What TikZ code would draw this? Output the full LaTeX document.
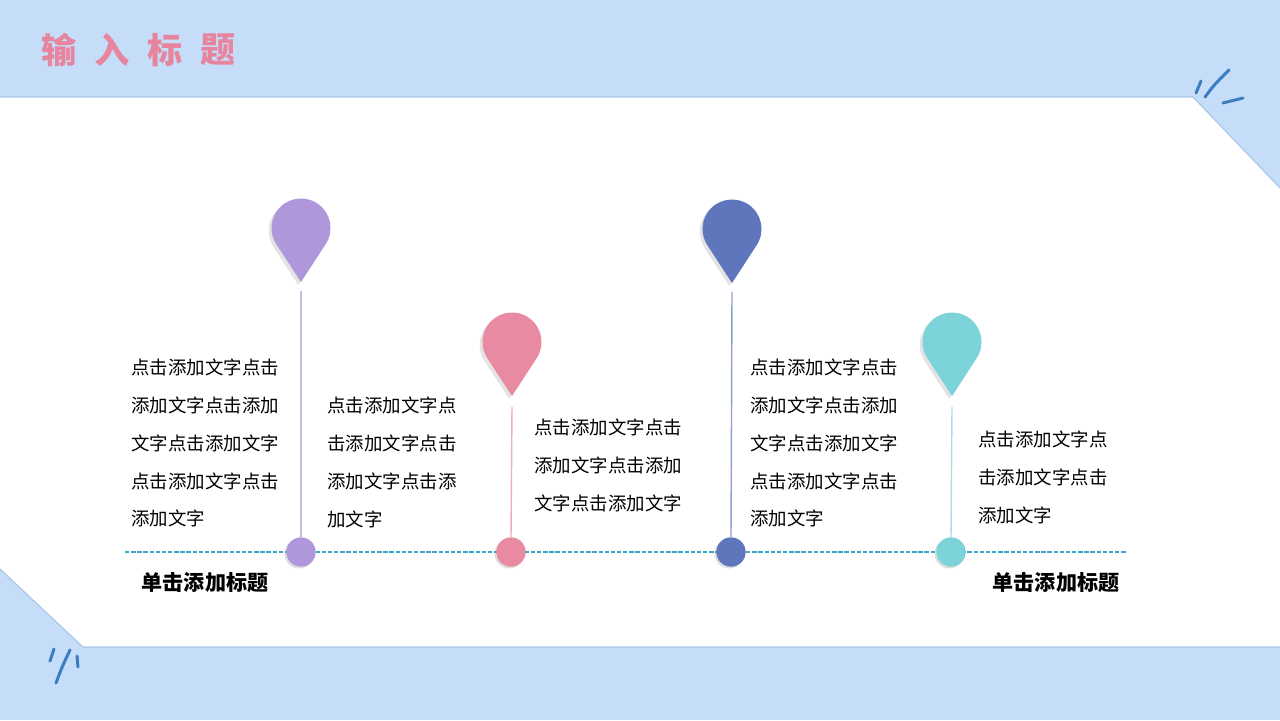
\documentclass[tikz,border=0pt]{standalone}
\usepackage{fontspec}
\newfontfamily\cjk{Noto Sans CJK SC}
\usepackage{tikz}
\usetikzlibrary{positioning,shadows,calc}
\definecolor{bgblue}{HTML}{C5DDF8}
\definecolor{edgeblue}{HTML}{A6C5E8}
\definecolor{strokeblue}{HTML}{3C7CC0}
\definecolor{titlepink}{HTML}{E8859E}
\definecolor{pinpurple}{HTML}{B097DB}
\definecolor{pinpink}{HTML}{E98AA3}
\definecolor{pinblue}{HTML}{5F76BD}
\definecolor{pincyan}{HTML}{7DD3DA}
\definecolor{lineteal}{HTML}{3BA6C6}
\tikzset{
  body/.style={font=\fontsize{10.5}{21.6}\selectfont\cjk,align=left,inner sep=0pt,anchor=west},
  head/.style={font=\fontsize{12}{14}\selectfont\cjk\bfseries,inner sep=0pt},
  titlechar/.style={font=\fontsize{20}{22}\selectfont\cjk\bfseries,text=titlepink,inner sep=0pt},
  dot/.style={circle,inner sep=0pt,minimum size=16.7pt,
    drop shadow={opacity=0.25,shadow xshift=-1pt,shadow yshift=-1pt}},
  pinshade/.style={drop shadow={opacity=0.22,shadow xshift=-1.6pt,shadow yshift=-1.6pt}},
  squiggle/.style={strokeblue,line width=1.7pt,line cap=round},
}
% pin head: name, centre, colour
\newcommand{\drawpin}[3]{%
  \coordinate (#1) at (#2);
  \fill[#3,pinshade] ($(#1)+(0,54)$) -- ($(#1)+(33.1:29.5)$)
    arc[start angle=33.1, end angle=-213.1, radius=29.5] -- cycle;
}

\begin{document}
\begin{tikzpicture}[x=0.02cm,y=-0.02cm]
    \useasboundingbox (0,0) rectangle (1280,720);
    \fill[bgblue] (0,0) rectangle (1280,720);

    % white panel
    \fill[white] (0,97) -- (1193,97) -- (1280,188) -- (1280,647) -- (83,647) -- (0,569) -- cycle;
    \draw[edgeblue,line width=0.6pt] (0,97) -- (1193,97) -- (1280,188);
    \draw[edgeblue,line width=0.6pt] (0,569) -- (83,647) -- (1280,647);

    % strokes
    \draw[squiggle] (1196,93) -- (1201,81);
    \draw[squiggle] (1205,97) .. controls (1214,85) .. (1229,70);
    \draw[squiggle] (1223,103) -- (1243,98);
    \draw[squiggle] (50,661) -- (54,649);
    \draw[squiggle] (56,683) .. controls (62,667) .. (70,650);
    \draw[squiggle] (77,656) -- (78,667);

    % title
    \foreach \c [count=\i] in {输,入,标,题}
      \node[titlechar] (title\i) at ({59+53*(\i-1)},50) {\c};

    % timeline
    \coordinate (tl-start) at (125,552);
    \coordinate (tl-end) at (1127,552);
    \draw[lineteal,dashed,line width=0.6pt,dash pattern=on 2.5pt off 1pt] (tl-start) -- (tl-end);

    %pins
    \drawpin{p1}{301,228}{pinpurple}
    \drawpin{p2}{512,342}{pinpink}
    \drawpin{p3}{732,229}{pinblue}
    \drawpin{p4}{952,342}{pincyan}

    %dots
    \node[dot,fill=pinpurple] (d1) at (301,552) {};
    \node[dot,fill=pinpink] (d2) at (511,552) {};
    \node[dot,fill=pinblue] (d3) at (731,552) {};
    \node[dot,fill=pincyan] (d4) at (951,552) {};

    %stems
    \coordinate (s1) at (301,291);
    \coordinate (s2) at (512,407);
    \coordinate (s3) at (732,292);
    \coordinate (s4) at (952,407);
    \draw[pinpurple!70,line width=0.8pt] (s1) -- (d1.north);
    \draw[pinpink!70,line width=0.8pt] (s2) -- (d2.north);
    \draw[pinblue!70,line width=0.8pt] (s3) -- (d3.north);
    \draw[pincyan!70,line width=0.8pt] (s4) -- (d4.north);

    %texts
    \node[body] (txt1) at (131,443) {点击添加文字点击\\添加文字点击添加\\文字点击添加文字\\点击添加文字点击\\添加文字};
    \node[body] (txt2) at (327,462) {点击添加文字点\\击添加文字点击\\添加文字点击添\\加文字};
    \node[body] (txt3) at (534,465) {点击添加文字点击\\添加文字点击添加\\文字点击添加文字};
    \node[body] (txt4) at (750,443) {点击添加文字点击\\添加文字点击添加\\文字点击添加文字\\点击添加文字点击\\添加文字};
    \node[body] (txt5) at (978,477) {点击添加文字点\\击添加文字点击\\添加文字};

    \node[head] (head1) at (205,582) {单击添加标题};
    \node[head] (head2) at (1056,582) {单击添加标题};
\end{tikzpicture}
\end{document}
